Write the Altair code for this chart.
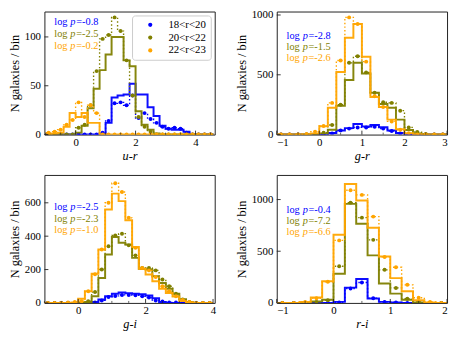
import altair as alt
import pandas as pd

FONT = "Liberation Serif"
FRAME = "#222222"
SERIES = ["18<r<20", "20<r<22", "22<r<23"]
COLORS = ["#0000ff", "#808000", "#ffa500"]
BIN_WIDTH = 0.2
Y_TITLE = "N galaxies / bin"

# ---------------- u-r (bins of 0.2 from -1.0) ----------------
UR_START = -1.0
UR_SOLID_BLUE = [0, 0, 0, 0, 0, 0, 0, 0, 0, 1, 12, 38, 40, 41, 52, 41, 41, 28, 19, 9, 6, 5, 5, 3, 0, 0, 0, 0]
UR_DOT_BLUE = [0, 0, 0, 0, 0, 0, 0, 0, 0, 2, 14, 32, 33, 30, 40, 17, 22, 16, 12, 8, 6, 7, 6, 2, 0, 0, 0, 0]
UR_SOLID_OLIVE = [0, 0, 0, 0, 0, 2, 9, 27, 47, 66, 82, 100, 100, 76, 70, 24, 10, 5, 1, 0, 0, 0, 0, 0, 0, 0, 0, 0]
UR_DOT_OLIVE = [0, 0, 0, 0, 0, 7, 10, 30, 65, 98, 102, 120, 106, 76, 40, 18, 8, 3, 0, 0, 0, 0, 0, 0, 0, 0, 0, 0]
UR_SOLID_ORANGE = [0, 1, 2, 8, 22, 18, 22, 12, 12, 0, 0, 0, 0, 0, 0, 0, 0, 0, 0, 0, 0, 0, 0, 0, 0, 0, 0, 0]
UR_DOT_ORANGE = [2, 3, 5, 10, 15, 33, 18, 30, 22, 0, 0, 0, 0, 0, 0, 0, 0, 0, 0, 0, 0, 0, 0, 0, 0, 0, 0, 0]
UR_LOGP = ["-0.8", "-2.5", "-0.2"]

# ---------------- g-r ----------------
GR_START = -1.0
GR_SOLID_BLUE = [0, 0, 0, 0, 0, 0, 13, 35, 54, 88, 68, 80, 62, 35, 13, 3, 0, 0, 0, 0]
GR_DOT_BLUE = [0, 0, 0, 0, 0, 2, 10, 35, 50, 60, 60, 65, 50, 30, 10, 2, 0, 0, 0, 0]
GR_SOLID_OLIVE = [0, 0, 0, 0, 0, 10, 40, 242, 456, 600, 510, 350, 255, 225, 125, 38, 10, 0, 0, 0]
GR_DOT_OLIVE = [0, 0, 0, 0, 0, 15, 80, 250, 600, 655, 520, 350, 270, 265, 200, 60, 22, 5, 0, 0]
GR_SOLID_ORANGE = [0, 0, 0, 0, 10, 70, 225, 524, 810, 925, 650, 315, 230, 125, 45, 12, 3, 0, 0, 0]
GR_DOT_ORANGE = [0, 0, 0, 5, 25, 72, 265, 620, 980, 925, 610, 320, 230, 110, 40, 12, 0, 0, 0, 0]
GR_LOGP = ["-2.8", "-1.5", "-2.6"]

# ---------------- g-i ----------------
GI_START = -1.0
GI_SOLID_BLUE = [0, 0, 0, 0, 0, 0, 0, 5, 20, 40, 55, 62, 58, 55, 52, 45, 28, 5, 0, 0, 0, 0, 0, 0, 0]
GI_DOT_BLUE = [0, 0, 0, 0, 0, 0, 0, 3, 15, 35, 42, 48, 48, 46, 40, 32, 15, 8, 3, 2, 0, 0, 0, 0, 0]
GI_SOLID_OLIVE = [0, 0, 0, 0, 0, 0, 5, 40, 150, 290, 395, 360, 350, 270, 205, 200, 160, 120, 85, 55, 22, 5, 0, 0, 0]
GI_DOT_OLIVE = [0, 0, 0, 0, 0, 0, 10, 65, 200, 340, 405, 415, 345, 285, 210, 210, 195, 140, 100, 55, 20, 5, 0, 0, 0]
GI_SOLID_ORANGE = [0, 0, 0, 0, 3, 25, 70, 175, 320, 560, 655, 610, 495, 335, 205, 170, 130, 85, 60, 38, 12, 4, 0, 0, 0]
GI_DOT_ORANGE = [0, 0, 0, 2, 5, 10, 70, 172, 320, 600, 717, 665, 510, 330, 210, 195, 155, 100, 70, 40, 18, 5, 0, 0, 0]
GI_LOGP = ["-2.5", "-2.3", "-1.0"]

# ---------------- r-i ----------------
RI_START = -1.0
RI_SOLID_BLUE = [0, 0, 0, 0, 0, 10, 148, 232, 42, 10, 4, 0, 0, 0, 0]
RI_DOT_BLUE = [0, 0, 0, 0, 0, 5, 140, 197, 45, 10, 4, 0, 0, 0, 0]
RI_SOLID_OLIVE = [0, 0, 0, 15, 30, 283, 958, 765, 460, 188, 90, 30, 5, 0, 0]
RI_DOT_OLIVE = [0, 0, 0, 10, 25, 355, 970, 825, 610, 320, 145, 40, 10, 0, 0]
RI_SOLID_ORANGE = [0, 0, 10, 52, 210, 660, 1150, 990, 728, 450, 240, 112, 25, 5, 0]
RI_DOT_ORANGE = [0, 0, 10, 45, 205, 605, 1090, 1045, 835, 445, 345, 175, 50, 10, 0]
RI_LOGP = ["-0.4", "-7.2", "-6.6"]


def step_frame(start, counts):
    n = len(counts)
    xs = [round(start + i * BIN_WIDTH, 4) for i in range(n + 1)]
    ys = list(counts) + [counts[-1]]
    return pd.DataFrame({"x": xs, "y": ys})


def point_frame(start, counts, name):
    xs = [round(start + (i + 0.5) * BIN_WIDTH, 4) for i in range(len(counts))]
    return pd.DataFrame({"x": xs, "y": counts, "s": [name] * len(counts)})


LEGEND = alt.Legend(
    orient="top-right", offset=4, title=None, labelFont=FONT, labelFontSize=11,
    labelColor="black", symbolType="circle", symbolSize=18, symbolStrokeWidth=0,
    padding=4, rowPadding=1, symbolOffset=9, labelOffset=13,
    strokeColor="#cccccc", fillColor="white", cornerRadius=3, labelLimit=120,
)


def panel(title, start, solids, dots, logp, xdom, ydom, xmajor, xminor, ymajor,
          width, height, text_y, legend=False):
    xs = alt.Scale(domain=xdom, nice=False, zero=False)
    ys = alt.Scale(domain=ydom, nice=False, zero=False)
    xaxis = alt.Axis(values=xmajor, format="d")
    yaxis = alt.Axis(values=ymajor, format="d")
    X = alt.X("x:Q", scale=xs, axis=xaxis, title=title)
    Y = alt.Y("y:Q", scale=ys, axis=yaxis, title=Y_TITLE)
    layers = []
    for k in range(3):
        layers.append(
            alt.Chart(step_frame(start, solids[k]))
            .mark_line(interpolate="step-after", strokeWidth=2, color=COLORS[k], clip=True, opacity=0.95)
            .encode(x=X, y=Y)
        )
        layers.append(
            alt.Chart(step_frame(start, dots[k]))
            .mark_line(interpolate="step-after", strokeWidth=1.4, strokeDash=[1.5, 2.2],
                       color=COLORS[k], clip=True)
            .encode(x=X, y=Y)
        )
        pdf = point_frame(start, dots[k], SERIES[k])
        if legend:
            pts = alt.Chart(pdf).mark_circle(size=16, opacity=1, clip=True).encode(
                x=X, y=Y,
                color=alt.Color("s:N", scale=alt.Scale(domain=SERIES, range=COLORS), legend=LEGEND),
            )
        else:
            pts = alt.Chart(pdf).mark_circle(size=16, opacity=1, color=COLORS[k], clip=True).encode(x=X, y=Y)
        layers.append(pts)
    # inward ticks
    layers.append(
        alt.Chart(pd.DataFrame({"x": xmajor})).mark_rule(color=FRAME, strokeWidth=0.9)
        .encode(x=X, y=alt.value(height), y2=alt.value(height - 4))
    )
    layers.append(
        alt.Chart(pd.DataFrame({"x": xminor})).mark_rule(color=FRAME, strokeWidth=0.7)
        .encode(x=X, y=alt.value(height), y2=alt.value(height - 2))
    )
    layers.append(
        alt.Chart(pd.DataFrame({"y": ymajor})).mark_rule(color=FRAME, strokeWidth=0.9)
        .encode(y=Y, x=alt.value(0), x2=alt.value(4))
    )
    # log p annotations
    for k in range(3):
        pieces = [("log", 10, "normal"), ("p", 26.3, "italic"), ("=" + logp[k], 32.3, "normal")]
        for txt, px, style in pieces:
            layers.append(
                alt.Chart(pd.DataFrame({"t": [txt]}))
                .mark_text(align="left", baseline="middle", font=FONT, fontSize=10.5,
                           color=COLORS[k], fontStyle=style)
                .encode(x=alt.value(px), y=alt.value(text_y[k]), text="t:N")
            )
    return alt.layer(*layers).properties(width=width, height=height)


p1 = panel("u-r", UR_START,
           [UR_SOLID_BLUE, UR_SOLID_OLIVE, UR_SOLID_ORANGE],
           [UR_DOT_BLUE, UR_DOT_OLIVE, UR_DOT_ORANGE], UR_LOGP,
           [-1.04, 4.64], [0, 126], [0, 2, 4],
           [-1, -0.5, 0.5, 1, 1.5, 2.5, 3, 3.5, 4.5], [0, 50, 100],
           173, 125, [11, 23, 35], legend=True)
p2 = panel("g-r", GR_START,
           [GR_SOLID_BLUE, GR_SOLID_OLIVE, GR_SOLID_ORANGE],
           [GR_DOT_BLUE, GR_DOT_OLIVE, GR_DOT_ORANGE], GR_LOGP,
           [-1, 3], [0, 1029], [-1, 0, 1, 2, 3],
           [-0.5, 0.5, 1.5, 2.5], [0, 500, 1000],
           173, 125, [24.5, 36, 47.5])
p3 = panel("g-i", GI_START,
           [GI_SOLID_BLUE, GI_SOLID_OLIVE, GI_SOLID_ORANGE],
           [GI_DOT_BLUE, GI_DOT_OLIVE, GI_DOT_ORANGE], GI_LOGP,
           [-1, 4.05], [0, 767], [0, 2, 4],
           [-1, -0.5, 0.5, 1, 1.5, 2.5, 3, 3.5], [0, 200, 400, 600],
           173, 130, [33, 44.5, 56])
p4 = panel("r-i", RI_START,
           [RI_SOLID_BLUE, RI_SOLID_OLIVE, RI_SOLID_ORANGE],
           [RI_DOT_BLUE, RI_DOT_OLIVE, RI_DOT_ORANGE], RI_LOGP,
           [-1, 2], [0, 1238], [-1, 0, 1, 2],
           [-0.5, 0.5, 1.5], [0, 500, 1000],
           173, 130, [35.5, 47, 58.5])

chart = (
    alt.concat(p1, p2, p3, p4, columns=2, spacing={"row": 12, "column": 18})
    .resolve_scale(color="independent")
    .resolve_legend(color="independent")
    .properties(padding={"top": -2, "left": 0, "right": 2, "bottom": 2})
    .configure_view(stroke=FRAME, strokeWidth=1)
    .configure_axis(labelFont=FONT, labelFontSize=11, labelColor="black",
                    titleFont=FONT, titleFontSize=12.5, titleFontWeight="normal",
                    titleColor="black", grid=False, domain=False, ticks=False)
    .configure_axisX(labelPadding=2, titlePadding=2, titleFontStyle="italic")
    .configure_axisY(labelPadding=4, titlePadding=3)
)

chart.save("out.html", embed_options={"renderer": "svg", "actions": False})
